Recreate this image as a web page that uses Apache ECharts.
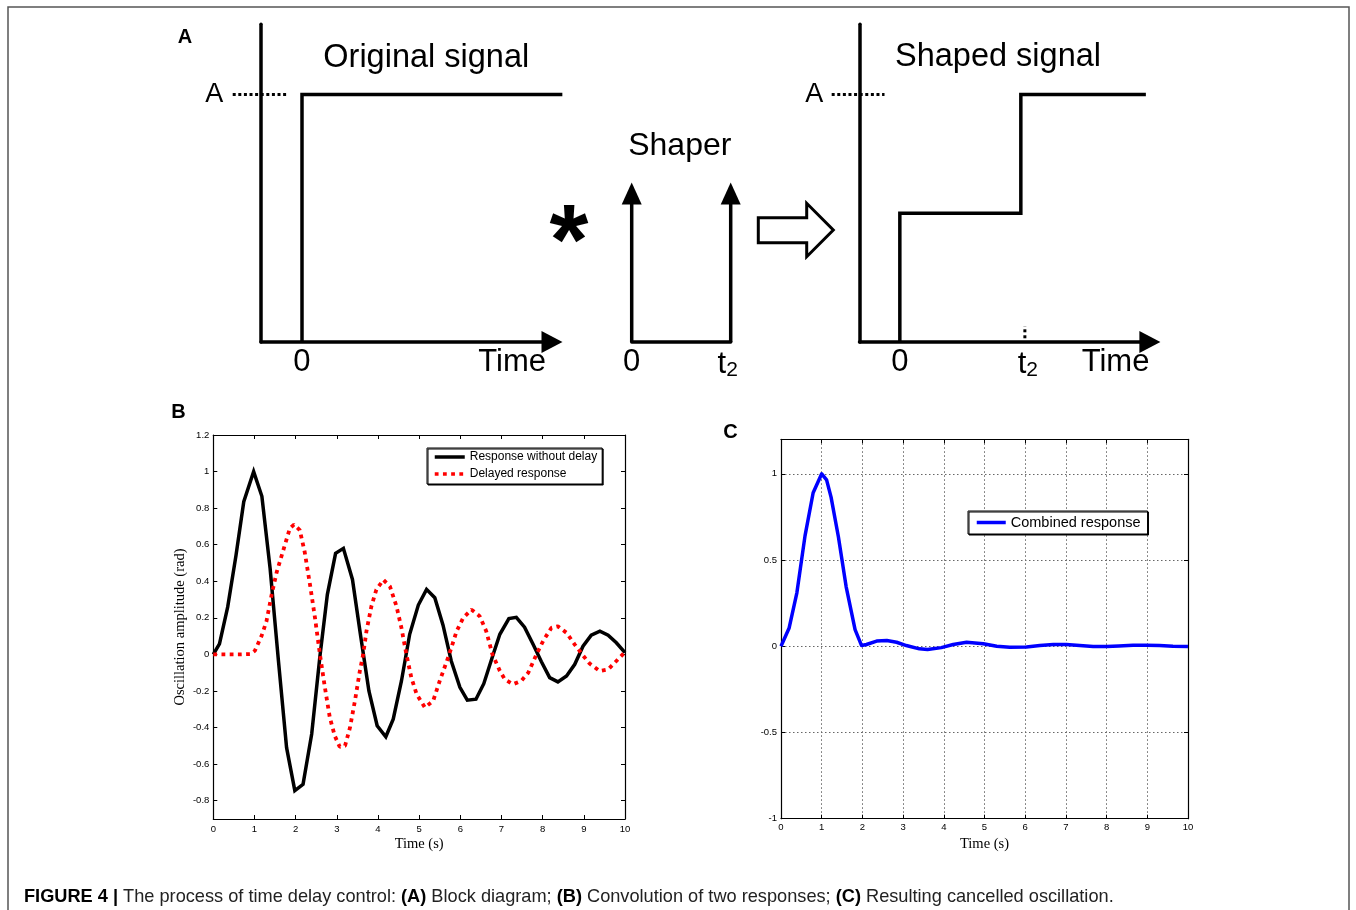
<!DOCTYPE html>
<html>
<head>
<meta charset="utf-8">
<script src="https://cdn.jsdelivr.net/npm/echarts@6/dist/echarts.min.js"></script>
<style>
  html, body { margin: 0; padding: 0; background: #fff; }
  #fig { width: 1356px; height: 910px; }
</style>
</head>
<body>
<div id="fig"></div>
<script>
// ---------- Panel A: block diagram (time in arbitrary units, t2 = 3) ----------
const originalT = [0, 0, 6.35];
const originalV = [0, 1, 1];
const shaperT = [0, 3];            // impulse instants 0 and t2
const shaperV = [0.6, 0.6];        // impulse heights
const shapedT = [0, 0, 3, 3, 6.1];
const shapedV = [0, 0.52, 0.52, 1, 1];
const levelGuideT = [-1.69, -0.38]; // dotted guide towards level A
const t2MarkT = [3.1, 3.1];
const t2MarkV = [0.015, 0.065];

// ---------- Panel B: two oscillation responses ----------
const noDelayT = [0, 0.15, 0.35, 0.55, 0.74, 0.98, 1.18, 1.38, 1.58, 1.78, 1.98, 2.18, 2.39, 2.59, 2.77,
  2.97, 3.16, 3.38, 3.58, 3.78, 3.98, 4.19, 4.37, 4.57, 4.77, 4.98, 5.18, 5.38, 5.58, 5.78, 5.99, 6.17,
  6.38, 6.57, 6.77, 6.96, 7.18, 7.36, 7.56, 7.77, 7.97, 8.17, 8.37, 8.58, 8.78, 8.98, 9.18, 9.39, 9.59,
  9.79, 10];
const noDelayV = [0, 0.058, 0.26, 0.54, 0.835, 1.0, 0.865, 0.47, -0.03, -0.51, -0.745, -0.71, -0.435, -0.01,
  0.327, 0.553, 0.58, 0.41, 0.1, -0.2, -0.39, -0.45, -0.354, -0.145, 0.11, 0.27, 0.356, 0.31, 0.16, -0.036,
  -0.18, -0.25, -0.245, -0.16, -0.02, 0.11, 0.196, 0.203, 0.149, 0.054, -0.04, -0.127, -0.15, -0.118,
  -0.054, 0.045, 0.105, 0.127, 0.105, 0.064, 0.01];
const delayedT = [0, 0.3, 0.6, 0.9, 1.01, 1.17, 1.29, 1.42, 1.54, 1.7, 1.86, 1.96, 2.1, 2.22, 2.35, 2.47,
  2.59, 2.71, 2.83, 2.95, 3.07, 3.2, 3.32, 3.44, 3.56, 3.64, 3.72, 3.84, 3.96, 4.13, 4.29, 4.45, 4.57,
  4.69, 4.81, 4.94, 5.14, 5.34, 5.5, 5.73, 5.91, 6.07, 6.27, 6.47, 6.63, 6.78, 6.96, 7.08, 7.28, 7.48,
  7.65, 7.85, 8.01, 8.21, 8.37, 8.58, 8.78, 8.96, 9.14, 9.39, 9.59, 9.79, 10];
const delayedV = [0, 0, 0, 0.002, 0.02, 0.1, 0.18, 0.33, 0.45, 0.57, 0.69, 0.71, 0.68, 0.56, 0.38, 0.2,
  0, -0.18, -0.345, -0.445, -0.505, -0.5, -0.4, -0.254, -0.09, 0, 0.127, 0.263, 0.354, 0.408, 0.372,
  0.263, 0.145, 0, -0.127, -0.218, -0.29, -0.254, -0.145, 0, 0.127, 0.2, 0.245, 0.209, 0.127, 0, -0.09,
  -0.136, -0.163, -0.145, -0.1, 0, 0.073, 0.145, 0.154, 0.118, 0.054, 0, -0.05, -0.091, -0.082, -0.036,
  0.013];
const yTicksB = [-0.8, -0.6, -0.4, -0.2, 0, 0.2, 0.4, 0.6, 0.8, 1, 1.2];

// ---------- Panel C: combined response ----------
const combinedT = [0, 0.2, 0.39, 0.59, 0.79, 1.0, 1.12, 1.23, 1.41, 1.6, 1.82, 1.98, 2.1, 2.35, 2.6, 2.84,
  3.08, 3.4, 3.6, 3.94, 4.23, 4.56, 4.97, 5.3, 5.62, 6.03, 6.36, 6.69, 7.01, 7.34, 7.67, 8.0, 8.3, 8.65,
  8.98, 9.3, 9.63, 10];
const combinedV = [0, 0.106, 0.31, 0.64, 0.89, 1.0, 0.965, 0.865, 0.635, 0.346, 0.096, 0.004, 0.01, 0.03,
  0.033, 0.023, 0.004, -0.015, -0.019, -0.008, 0.01, 0.023, 0.015, 0, -0.006, -0.004, 0.004, 0.01, 0.01,
  0.004, -0.002, -0.002, 0.002, 0.006, 0.006, 0.004, 0, -0.002];

const SANS = "'Liberation Sans', Arial, Helvetica, sans-serif";
const SERIF = "'Liberation Serif', 'Times New Roman', serif";
const pairs = (t, v) => t.map((x, i) => [x, v[i]]);
const num = v => String(+(+v).toFixed(2));

const chart = echarts.init(document.getElementById('fig'), null, { renderer: 'canvas' });

// shared styles
const thick = { color: '#000', width: 3.5, join: 'miter', cap: 'butt' };
const dots = { color: '#000', width: 3, type: [3, 2.6], cap: 'butt' };
const blockY = { min: 0, max: 1.283 };
const diagAxisX = (grid, min, max, arrow, labels, rich, fmt) => ({
  type: 'value', gridIndex: grid, min, max,
  axisLine: { show: true, onZero: false, lineStyle: { color: '#000', width: 3.5 },
    symbol: arrow ? ['none', 'triangle'] : 'none', symbolSize: [22, 21] },
  axisTick: { show: false }, splitLine: { show: false },
  axisLabel: { customValues: labels, formatter: fmt, margin: 5, color: '#000',
    fontFamily: SANS, fontSize: 31, rich }
});
const diagAxisY = (grid, showLine, margin) => ({
  type: 'value', gridIndex: grid, ...blockY, show: showLine,
  axisLine: { show: true, onZero: false, lineStyle: { color: '#000', width: 3.5 } },
  axisTick: { show: false }, splitLine: { show: false },
  axisLabel: { customValues: [1], formatter: () => 'A', margin, color: '#000',
    fontFamily: SANS, fontSize: 27 }
});
const hiddenAxis = (grid, min, max) => ({ type: 'value', gridIndex: grid, min, max, show: false,
  splitLine: { show: false } });
const t2Rich = (padLeft, padRight) => ({
  t: { fontSize: 31, fontFamily: SANS, color: '#000', padding: [0, 0, 0, padLeft] },
  s: { fontSize: 21, fontFamily: SANS, color: '#000', padding: [13, padRight, 0, 0] }
});
const t2Fmt = v => (Math.abs(v) < 1e-9 ? '0' : '{t|t}{s|2}');

// plot axes (box with inward ticks)
const boxLine = { show: true, onZero: false, lineStyle: { color: '#000', width: 1.2 } };
const inTick = { show: true, inside: true, length: 4, lineStyle: { color: '#000', width: 1 } };
const tickLabel = { color: '#000', fontFamily: SANS, fontSize: 9.5 };
const gridDots = { show: true, lineStyle: { color: '#666', width: 1, type: [1.5, 2.5] } };
const legendBox = {
  orient: 'vertical', selectedMode: false, symbolSize: 0,
  itemStyle: { opacity: 0, color: 'rgba(0,0,0,0)', borderWidth: 0 },
  lineStyle: { width: 3.5 },
  backgroundColor: '#fff', borderColor: '#000', borderWidth: 1, borderRadius: 0,
  shadowColor: '#000', shadowOffsetX: 1, shadowOffsetY: 1, shadowBlur: 0
};

const option = {
  animation: false,
  backgroundColor: '#fff',
  grid: [
    { left: 261, top: 24.3, width: 291, height: 317.7, outerBoundsMode: 'none' },    // A1 axes
    { left: 631.7, top: 24.3, width: 99, height: 317.7, outerBoundsMode: 'none' },  // shaper
    { left: 859.5, top: 24.3, width: 290.4, height: 317.7, outerBoundsMode: 'none' }, // A3 axes
    { left: 213.3, top: 435, width: 411.7, height: 384, outerBoundsMode: 'none' },   // B
    { left: 781, top: 439.3, width: 407, height: 379.4, outerBoundsMode: 'none' },   // C
    { left: 220, top: 24.3, width: 369, height: 317.7, outerBoundsMode: 'none' },    // A1 signals
    { left: 819.17, top: 24.3, width: 363, height: 317.7, outerBoundsMode: 'none' }  // A3 signals
  ],
  xAxis: [
    diagAxisX(0, -1, 6.1, true, [0], null, t2Fmt),
    diagAxisX(1, 0, 3, false, [0, 3], t2Rich(0, 6), t2Fmt),
    diagAxisX(2, -1, 6.2, true, [0, 3], t2Rich(14, 0), t2Fmt),
    { type: 'value', gridIndex: 3, min: 0, max: 10, interval: 1, axisLine: boxLine, axisTick: inTick,
      splitLine: { show: false }, axisLabel: { ...tickLabel, margin: 5 },
      name: 'Time (s)', nameLocation: 'middle', nameGap: 18,
      nameTextStyle: { fontFamily: SERIF, fontSize: 14.5, color: '#000' } },
    { type: 'value', gridIndex: 3, position: 'top', min: 0, max: 10, interval: 1, axisLine: boxLine,
      axisTick: inTick, axisLabel: { show: false }, splitLine: { show: false } },
    { type: 'value', gridIndex: 4, min: 0, max: 10, interval: 1, axisLine: boxLine, axisTick: inTick,
      splitLine: gridDots, axisLabel: { ...tickLabel, margin: 4 },
      name: 'Time (s)', nameLocation: 'middle', nameGap: 17.5,
      nameTextStyle: { fontFamily: SERIF, fontSize: 14.5, color: '#000' } },
    { type: 'value', gridIndex: 4, position: 'top', min: 0, max: 10, interval: 1, axisLine: boxLine,
      axisTick: inTick, axisLabel: { show: false }, splitLine: { show: false } },
    hiddenAxis(5, -2, 7),
    hiddenAxis(6, -2, 7)
  ],
  yAxis: [
    diagAxisY(0, true, 37.7),
    diagAxisY(1, false, 0),
    diagAxisY(2, true, 36.2),
    { type: 'value', gridIndex: 3, min: -0.9, max: 1.2, axisLine: boxLine,
      axisTick: { ...inTick, customValues: yTicksB }, splitLine: { show: false },
      axisLabel: { ...tickLabel, margin: 4, customValues: yTicksB, formatter: num },
      name: 'Oscillation amplitude (rad)', nameLocation: 'middle', nameGap: 26, nameRotate: 90,
      nameTextStyle: { fontFamily: SERIF, fontSize: 14.5, color: '#000' } },
    { type: 'value', gridIndex: 3, position: 'right', min: -0.9, max: 1.2, axisLine: boxLine,
      axisTick: { ...inTick, customValues: yTicksB }, axisLabel: { show: false }, splitLine: { show: false } },
    { type: 'value', gridIndex: 4, min: -1, max: 1.2, interval: 0.5, axisLine: boxLine, axisTick: inTick,
      splitLine: gridDots, axisLabel: { ...tickLabel, margin: 4, formatter: num, showMaxLabel: false } },
    { type: 'value', gridIndex: 4, position: 'right', min: -1, max: 1.2, interval: 0.5, axisLine: boxLine,
      axisTick: inTick, axisLabel: { show: false }, splitLine: { show: false } },
    hiddenAxis(5, 0, 1.283),
    hiddenAxis(6, 0, 1.283)
  ],
  legend: [
    { ...legendBox, data: ['Response without delay', 'Delayed response'], left: 427, top: 448,
      padding: [3, 5, 4, 6], itemWidth: 30, itemHeight: 12, itemGap: 5,
      textStyle: { fontFamily: SANS, fontSize: 12, color: '#000' } },
    { ...legendBox, data: ['Combined response'], left: 968, top: 511,
      padding: [4, 7, 4, 7], itemWidth: 29, itemHeight: 14,
      textStyle: { fontFamily: SANS, fontSize: 14.5, color: '#000' } }
  ],
  series: [
    // original step signal
    { type: 'line', xAxisIndex: 7, yAxisIndex: 7, data: pairs(originalT, originalV), symbol: 'none',
      lineStyle: thick, silent: true },
    { type: 'line', xAxisIndex: 7, yAxisIndex: 7, data: levelGuideT.map(t => [t, 1]), symbol: 'none',
      lineStyle: dots, silent: true },
    // shaped signal
    { type: 'line', xAxisIndex: 8, yAxisIndex: 8, data: pairs(shapedT, shapedV), symbol: 'none',
      lineStyle: thick, silent: true },
    { type: 'line', xAxisIndex: 8, yAxisIndex: 8, data: levelGuideT.map(t => [t, 1]), symbol: 'none',
      lineStyle: dots, silent: true },
    { type: 'line', xAxisIndex: 8, yAxisIndex: 8, data: pairs(t2MarkT, t2MarkV), symbol: 'none',
      lineStyle: { ...dots, type: [3, 3] }, silent: true },
    // shaper impulses
    ...shaperT.map((t, i) => ({
      type: 'line', xAxisIndex: 1, yAxisIndex: 1, symbol: 'triangle', symbolSize: [20, 22],
      showSymbol: true, clip: false, silent: true, lineStyle: thick, itemStyle: { color: '#000' },
      data: [{ value: [t, 0], symbol: 'none' }, { value: [t, shaperV[i]] }]
    })),
    // panel B
    { name: 'Response without delay', type: 'line', xAxisIndex: 3, yAxisIndex: 3,
      data: pairs(noDelayT, noDelayV), symbol: 'none', lineStyle: thick, itemStyle: { color: '#000' } },
    { name: 'Delayed response', type: 'line', xAxisIndex: 3, yAxisIndex: 3,
      data: pairs(delayedT, delayedV), symbol: 'none',
      lineStyle: { color: '#ff0000', width: 3.8, type: [3.8, 4.4], cap: 'butt' },
      itemStyle: { color: '#ff0000' } },
    // panel C
    { name: 'Combined response', type: 'line', xAxisIndex: 5, yAxisIndex: 5,
      data: pairs(combinedT, combinedV), symbol: 'none',
      lineStyle: { color: '#0000ff', width: 3.5, join: 'round' }, itemStyle: { color: '#0000ff' } }
  ],
  graphic: [
    { type: 'rect', silent: true, shape: { x: 8, y: 7, width: 1341, height: 960 },
      style: { fill: 'none', stroke: '#555', lineWidth: 1.5 } },
    { type: 'text', x: 185, y: 37, style: { text: 'A', font: `bold 20px ${SANS}`, fill: '#000', align: 'center', verticalAlign: 'middle' } },
    { type: 'text', x: 178.5, y: 412, style: { text: 'B', font: `bold 20px ${SANS}`, fill: '#000', align: 'center', verticalAlign: 'middle' } },
    { type: 'text', x: 730.5, y: 432, style: { text: 'C', font: `bold 20px ${SANS}`, fill: '#000', align: 'center', verticalAlign: 'middle' } },
    { type: 'text', x: 323.3, y: 57.9, style: { text: 'Original signal', font: `32.5px ${SANS}`, fill: '#000', align: 'left', verticalAlign: 'middle' } },
    { type: 'text', x: 679.8, y: 145.8, style: { text: 'Shaper', font: `32px ${SANS}`, fill: '#000', align: 'center', verticalAlign: 'middle' } },
    { type: 'text', x: 895, y: 57.5, style: { text: 'Shaped signal', font: `32.5px ${SANS}`, fill: '#000', align: 'left', verticalAlign: 'middle' } },
    { type: 'text', x: 478.3, y: 362.5, style: { text: 'Time', font: `31px ${SANS}`, fill: '#000', align: 'left', verticalAlign: 'middle' } },
    { type: 'text', x: 1081.7, y: 362.5, style: { text: 'Time', font: `31px ${SANS}`, fill: '#000', align: 'left', verticalAlign: 'middle' } },
    { type: 'text', x: 569, y: 246, style: { text: '*', font: `bold 100px ${SANS}`, fill: '#000', align: 'center', verticalAlign: 'middle' } },
    { type: 'polygon', silent: true,
      shape: { points: [[758.3, 217.7], [806.7, 217.7], [806.7, 203.3], [833.3, 230], [806.7, 256.7], [806.7, 242.7], [758.3, 242.7]] },
      style: { fill: '#fff', stroke: '#000', lineWidth: 3, lineJoin: 'miter' } },
    { type: 'text', x: 24, y: 897, style: {
        text: '{b|FIGURE 4 |} {r|The process of time delay control:} {b|(A)} {r|Block diagram;} {b|(B)} {r|Convolution of two responses;} {b|(C)} {r|Resulting cancelled oscillation.}',
        align: 'left', verticalAlign: 'middle', fontSize: 18.2, fontFamily: SANS, fill: '#222',
        rich: {
          b: { fontSize: 18.2, fontFamily: SANS, fontWeight: 'bold', fill: '#000' },
          r: { fontSize: 18.2, fontFamily: SANS, fill: '#222' }
        } } }
  ]
};

chart.setOption(option);
</script>
</body>
</html>
